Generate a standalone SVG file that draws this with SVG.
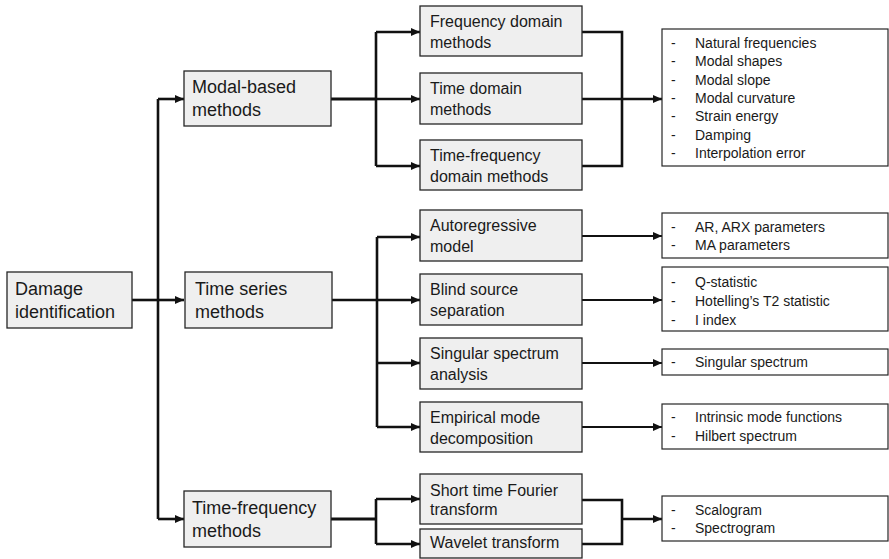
<svg xmlns="http://www.w3.org/2000/svg" width="889" height="559" viewBox="0 0 889 559">
<style>
.box{fill:#efefef;stroke:#262626;stroke-width:1.3}
.res{fill:#ffffff;stroke:#262626;stroke-width:1.2}
.t1{font-family:"Liberation Sans",Arial,sans-serif;font-size:18px;fill:#1a1a1a}
.t2{font-family:"Liberation Sans",Arial,sans-serif;font-size:16px;fill:#1a1a1a}
.t3{font-family:"Liberation Sans",Arial,sans-serif;font-size:14px;fill:#1a1a1a}
.c{fill:none;stroke:#111;stroke-width:2.6;stroke-linejoin:miter}
.ca{fill:none;stroke:#111;stroke-width:2.6;marker-end:url(#ah)}
.cr{fill:none;stroke:#111;stroke-width:2;marker-end:url(#ah)}
</style>
<defs>
<marker id="ah" markerUnits="userSpaceOnUse" markerWidth="9" markerHeight="8" refX="9" refY="4" orient="auto">
<path d="M0,0 L9,4 L0,8 Z" fill="#111"/>
</marker>
</defs>
<rect width="889" height="559" fill="#ffffff"/>

<g id="connectors">
  <!-- root to level 1 -->
  <path class="c" d="M132,300 H158"/>
  <path class="c" d="M158,519 V99"/>
  <path class="ca" d="M158,99 H184"/>
  <path class="ca" d="M158,300 H184"/>
  <path class="ca" d="M158,519 H184"/>
  <!-- modal-based branch -->
  <path class="c" d="M331,99 H376" style="stroke-width:3.2"/>
  <path class="c" d="M376,32 V166"/>
  <path class="ca" d="M376,32 H420"/>
  <path class="ca" d="M376,99 H420"/>
  <path class="ca" d="M376,166 H420"/>
  <path class="c" d="M582,32 H622 V166 H582"/>
  <path class="c" d="M582,99 H622"/>
  <path class="ca" d="M622,99 H662"/>
  <!-- time series branch -->
  <path class="c" d="M332,300 H377"/>
  <path class="c" d="M377,237 V427"/>
  <path class="ca" d="M377,237 H420"/>
  <path class="ca" d="M377,300 H420"/>
  <path class="ca" d="M377,363 H420"/>
  <path class="ca" d="M377,427 H420"/>
  <path class="cr" d="M582,236 H662"/>
  <path class="cr" d="M582,300 H662"/>
  <path class="cr" d="M582,363 H662"/>
  <path class="cr" d="M582,427 H662"/>
  <!-- time-frequency branch -->
  <path class="c" d="M331,519 H376" style="stroke-width:3.2"/>
  <path class="c" d="M376,499 V544"/>
  <path class="ca" d="M376,499 H420"/>
  <path class="ca" d="M376,544 H420"/>
  <path class="c" d="M582,500 H622 V544 H582"/>
  <path class="ca" d="M622,519 H662"/>
</g>

<g id="damage-identification">
  <rect class="box" x="7" y="272" width="125" height="56"/>
  <text class="t1" x="15" y="295">Damage</text>
  <text class="t1" x="15" y="318">identification</text>
</g>

<g id="modal-based">
  <rect class="box" x="184" y="71" width="147" height="55"/>
  <text class="t1" x="192" y="93">Modal-based</text>
  <text class="t1" x="192" y="116">methods</text>
</g>
<g id="time-series">
  <rect class="box" x="185" y="272" width="147" height="56"/>
  <text class="t1" x="195" y="295">Time series</text>
  <text class="t1" x="195" y="318">methods</text>
</g>
<g id="time-frequency">
  <rect class="box" x="184" y="491" width="147" height="56"/>
  <text class="t1" x="192" y="514">Time-frequency</text>
  <text class="t1" x="192" y="537">methods</text>
</g>

<g id="frequency-domain">
  <rect class="box" x="420" y="6" width="162" height="50"/>
  <text class="t2" x="430" y="27">Frequency domain</text>
  <text class="t2" x="430" y="48">methods</text>
</g>
<g id="time-domain">
  <rect class="box" x="420" y="73" width="162" height="51"/>
  <text class="t2" x="430" y="94">Time domain</text>
  <text class="t2" x="430" y="115">methods</text>
</g>
<g id="time-frequency-domain">
  <rect class="box" x="420" y="140" width="162" height="50"/>
  <text class="t2" x="430" y="161">Time-frequency</text>
  <text class="t2" x="430" y="182">domain methods</text>
</g>

<g id="autoregressive">
  <rect class="box" x="420" y="210" width="162" height="51"/>
  <text class="t2" x="430" y="231">Autoregressive</text>
  <text class="t2" x="430" y="252">model</text>
</g>
<g id="blind-source">
  <rect class="box" x="420" y="274" width="162" height="51"/>
  <text class="t2" x="430" y="295">Blind source</text>
  <text class="t2" x="430" y="316">separation</text>
</g>
<g id="singular-spectrum">
  <rect class="box" x="420" y="338" width="162" height="51"/>
  <text class="t2" x="430" y="359">Singular spectrum</text>
  <text class="t2" x="430" y="380">analysis</text>
</g>
<g id="empirical-mode">
  <rect class="box" x="420" y="402" width="162" height="50"/>
  <text class="t2" x="430" y="423">Empirical mode</text>
  <text class="t2" x="430" y="444">decomposition</text>
</g>
<g id="stft">
  <rect class="box" x="420" y="474" width="162" height="50"/>
  <text class="t2" x="430" y="496">Short time Fourier</text>
  <text class="t2" x="430" y="515">transform</text>
</g>
<g id="wavelet">
  <rect class="box" x="420" y="529" width="162" height="29"/>
  <text class="t2" x="430" y="548">Wavelet transform</text>
</g>

<g id="modal-results">
  <rect class="res" x="662" y="29" width="226" height="137"/>
  <g class="t3">
    <text x="671" y="48">-</text><text x="695" y="48">Natural frequencies</text>
    <text x="671" y="66.3">-</text><text x="695" y="66.3">Modal shapes</text>
    <text x="671" y="84.6">-</text><text x="695" y="84.6">Modal slope</text>
    <text x="671" y="102.9">-</text><text x="695" y="102.9">Modal curvature</text>
    <text x="671" y="121.2">-</text><text x="695" y="121.2">Strain energy</text>
    <text x="671" y="139.5">-</text><text x="695" y="139.5">Damping</text>
    <text x="671" y="157.8">-</text><text x="695" y="157.8">Interpolation error</text>
  </g>
</g>
<g id="ar-results">
  <rect class="res" x="662" y="213" width="226" height="45"/>
  <g class="t3">
    <text x="671" y="232">-</text><text x="695" y="232">AR, ARX parameters</text>
    <text x="671" y="250">-</text><text x="695" y="250">MA parameters</text>
  </g>
</g>
<g id="bss-results">
  <rect class="res" x="662" y="267" width="226" height="64"/>
  <g class="t3">
    <text x="671" y="286.5">-</text><text x="695" y="286.5">Q-statistic</text>
    <text x="671" y="306">-</text><text x="695" y="306">Hotelling’s T2 statistic</text>
    <text x="671" y="325">-</text><text x="695" y="325">I index</text>
  </g>
</g>
<g id="ssa-results">
  <rect class="res" x="662" y="349" width="226" height="26"/>
  <g class="t3">
    <text x="671" y="367">-</text><text x="695" y="367">Singular spectrum</text>
  </g>
</g>
<g id="emd-results">
  <rect class="res" x="662" y="404" width="226" height="45"/>
  <g class="t3">
    <text x="671" y="422">-</text><text x="695" y="422">Intrinsic mode functions</text>
    <text x="671" y="440.5">-</text><text x="695" y="440.5">Hilbert spectrum</text>
  </g>
</g>
<g id="tf-results">
  <rect class="res" x="662" y="496" width="226" height="45"/>
  <g class="t3">
    <text x="671" y="514.5">-</text><text x="695" y="514.5">Scalogram</text>
    <text x="671" y="533">-</text><text x="695" y="533">Spectrogram</text>
  </g>
</g>
</svg>
